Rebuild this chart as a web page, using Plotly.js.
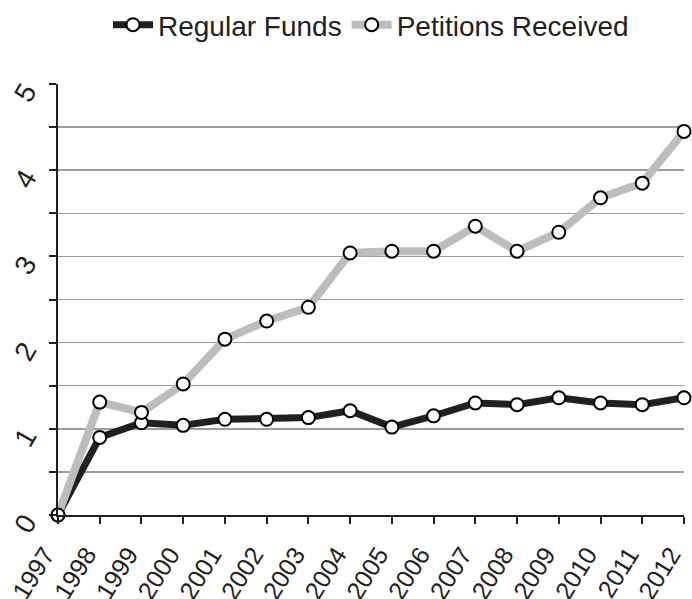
<!DOCTYPE html>
<html>
<head>
<meta charset="utf-8">
<script src="https://cdn.plot.ly/plotly-3.0.1.min.js"></script>
<style>html,body{margin:0;padding:0;background:#fff;}#chart{width:692px;height:599px;}</style>
</head>
<body>
<div id="chart"></div>
<script>
const years = [1997,1998,1999,2000,2001,2002,2003,2004,2005,2006,2007,2008,2009,2010,2011,2012];
const regularFunds = [0,0.90,1.07,1.04,1.11,1.11,1.13,1.21,1.02,1.15,1.30,1.28,1.36,1.30,1.28,1.36];
const petitionsReceived = [0,1.31,1.19,1.52,2.04,2.25,2.41,3.04,3.06,3.06,3.35,3.06,3.28,3.68,3.85,4.45];
const yTickVals = [0,0.5,1,1.5,2,2.5,3,3.5,4,4.5,5];
const yTickText = ['0','','1','','2','','3','','4','','5'];
const xTickText = years.map(String);

const marker = {symbol:'circle', size:13, color:'#ffffff', line:{color:'#000000', width:2}};
const traces = [
  {x:years, y:regularFunds, name:'Regular Funds', type:'scatter', mode:'lines+markers',
   line:{color:'#231f20', width:7}, marker:marker, cliponaxis:false},
  {x:years, y:petitionsReceived, name:'Petitions Received', type:'scatter', mode:'lines+markers',
   line:{color:'#bdbdbd', width:8}, marker:marker, cliponaxis:false}
];
const layout = {
  width:692, height:599,
  margin:{l:58, r:8, t:84, b:84},
  paper_bgcolor:'#fff', plot_bgcolor:'#fff',
  font:{family:'Liberation Sans, Arial, sans-serif', color:'#231f20'},
  showlegend:true,
  legend:{orientation:'h', x:0.5, xanchor:'center', y:1.0, yref:'container', yanchor:'top',
    font:{family:'Liberation Sans, Arial', size:28, color:'#231f20'},
    itemwidth:40, tracegroupgap:0},
  xaxis:{range:[1997,2012.0001], tickvals:years, ticktext:xTickText, tickangle:-58,
    showgrid:false, zeroline:false, showline:true, linecolor:'#231f20', linewidth:2,
    ticks:'outside', ticklen:7, tickwidth:2, tickcolor:'#231f20', ticklabeloverflow:'allow',
    ticklabelstandoff:6, ticklabelshift:-13,
    tickfont:{size:25, family:'Liberation Sans, Arial'}},
  yaxis:{range:[0,5], tickvals:yTickVals, ticktext:yTickText, tickangle:-60,
    showgrid:true, gridcolor:'#9d9d9d', gridwidth:1.5, zeroline:false,
    showline:true, linecolor:'#231f20', linewidth:2,
    ticks:'outside', ticklen:7, tickwidth:2, tickcolor:'#231f20',
    ticklabelstandoff:18, ticklabelshift:4,
    tickfont:{size:28, family:'Liberation Sans, Arial'}}
};
Plotly.newPlot('chart', traces, layout, {displayModeBar:false, staticPlot:true});
</script>
</body>
</html>
